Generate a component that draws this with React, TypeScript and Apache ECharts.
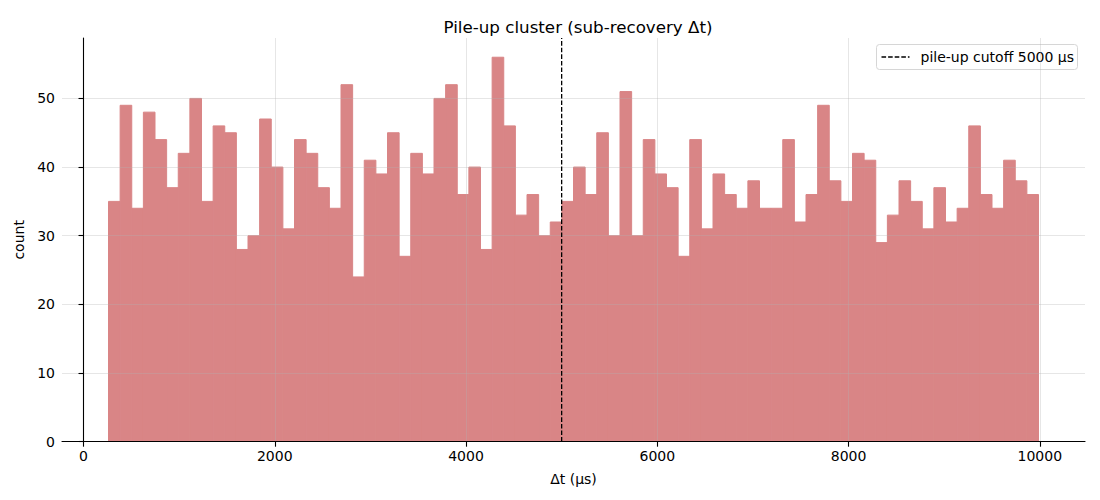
import React, { useEffect, useRef } from "react";
import * as echarts from "echarts";

const title = "Pile-up cluster (sub-recovery Δt)";
const xName = "Δt (μs)";
const yName = "count";
const cutoffLabel = "pile-up cutoff 5000 μs";
const cutoff = 5000;

const binStart = 261.5;
const binWidth = 121.56;
const counts = [
  35, 49, 34, 48, 44, 37, 42, 50, 35, 46,
  45, 28, 30, 47, 40, 31, 44, 42, 37, 34,
  52, 24, 41, 39, 45, 27, 42, 39, 50, 52,
  36, 40, 28, 56, 46, 33, 36, 30, 32, 35,
  40, 36, 45, 30, 51, 30, 44, 39, 37, 27,
  44, 31, 39, 36, 34, 38, 34, 34, 44, 32,
  36, 49, 38, 35, 42, 41, 29, 33, 38, 35,
  31, 37, 32, 34, 46, 36, 34, 41, 38, 36,
];
const xTicks = [0, 2000, 4000, 6000, 8000, 10000];
const yTicks = [0, 10, 20, 30, 40, 50];

const FONT = "DejaVu Sans";

export default function App() {
  const ref = useRef<HTMLDivElement>(null);
  useEffect(() => {
    if (!ref.current) return;
    const chart = echarts.init(ref.current, undefined, { renderer: "svg" });
    const bins = counts.map((c, i) => [binStart + i * binWidth, binStart + (i + 1) * binWidth, c]);
    const dataMin = binStart;
    const dataMax = binStart + counts.length * binWidth;
    const span = dataMax - dataMin;
    const xMin = dataMin - 0.05 * span;
    const xMax = dataMax + 0.05 * span;
    const yMax = Math.max(...counts) * 1.05;
    const gridColor = "rgba(176,176,176,0.32)";
    const barColor = "#d98586";
    chart.setOption({
      animation: false,
      title: {
        text: title,
        left: 573,
        textAlign: "center",
        top: 13,
        textStyle: { fontFamily: FONT, fontSize: 16.7, fontWeight: "normal", color: "#000" },
      },
      graphic: [
        {
          type: "group",
          right: 22,
          top: 44,
          z: 100,
          children: [
            {
              type: "rect",
              shape: { x: 0, y: 0, width: 201, height: 25, r: 3 },
              style: { fill: "rgba(255,255,255,0.8)", stroke: "#d6d6d6", lineWidth: 1 },
            },
            {
              type: "line",
              shape: { x1: 5, y1: 12.5, x2: 33, y2: 12.5 },
              style: { stroke: "#000", lineWidth: 1.3, lineDash: [4.6, 2] },
            },
            {
              type: "text",
              x: 44,
              y: 12.5,
              style: {
                text: cutoffLabel,
                fontFamily: FONT,
                fontSize: 14,
                fill: "#000",
                verticalAlign: "middle",
                align: "left",
              },
            },
          ],
        },
      ],
      grid: { left: 62, right: 15, top: 38, bottom: 58.3 },
      xAxis: {
        type: "value",
        min: xMin,
        max: xMax,
        z: 3,
        name: xName,
        nameLocation: "middle",
        nameGap: 30,
        nameTextStyle: { fontFamily: FONT, fontSize: 14, color: "#000" },
        axisLine: { show: true, onZero: false, lineStyle: { color: "#000", width: 1.1 } },
        axisTick: { show: true, inside: false, length: 5, customValues: xTicks, lineStyle: { color: "#000", width: 1.1 } },
        axisLabel: {
          customValues: xTicks,
          margin: 7,
          fontFamily: FONT,
          fontSize: 14,
          color: "#000",
          formatter: (v: number) => String(v),
        },
        splitLine: { show: true, lineStyle: { color: gridColor, width: 1 } },
      },
      yAxis: {
        type: "value",
        min: 0,
        max: yMax,
        z: 3,
        name: yName,
        nameLocation: "middle",
        nameGap: 36,
        nameTextStyle: { fontFamily: FONT, fontSize: 14, color: "#000" },
        axisLine: { show: true, lineStyle: { color: "#000", width: 1.1 } },
        axisTick: { show: true, inside: false, length: 5, customValues: yTicks, lineStyle: { color: "#000", width: 1.1 } },
        axisLabel: {
          customValues: yTicks,
          margin: 7,
          fontFamily: FONT,
          fontSize: 14,
          color: "#000",
          formatter: (v: number) => String(v),
        },
        splitLine: { show: true, lineStyle: { color: gridColor, width: 1 } },
      },
      series: [
        {
          type: "custom",
          name: "counts",
          data: bins,
          encode: { x: [0, 1], y: 2 },
          clip: true,
          z: 1,
          renderItem: (params: any, api: any) => {
            const x0 = api.value(0);
            const x1 = api.value(1);
            const y = api.value(2);
            const p0 = api.coord([x0, y]);
            const p1 = api.coord([x1, 0]);
            return {
              type: "rect",
              shape: { x: p0[0], y: p0[1], width: p1[0] - p0[0], height: p1[1] - p0[1] },
              style: { fill: barColor, stroke: barColor, lineWidth: 1 },
            };
          },
        },
        {
          type: "line",
          name: cutoffLabel,
          data: [
            [cutoff, 0],
            [cutoff, yMax],
          ],
          symbol: "none",
          z: 5,
          itemStyle: { color: "#000" },
          lineStyle: { color: "#000", width: 1.3, type: [4.6, 2] },
        },
      ],
    });
    return () => chart.dispose();
  }, []);
  return (
    <div
      ref={ref}
      style={{ position: "fixed", left: 0, top: 0, width: 1100, height: 500, background: "#fff" }}
    />
  );
}
